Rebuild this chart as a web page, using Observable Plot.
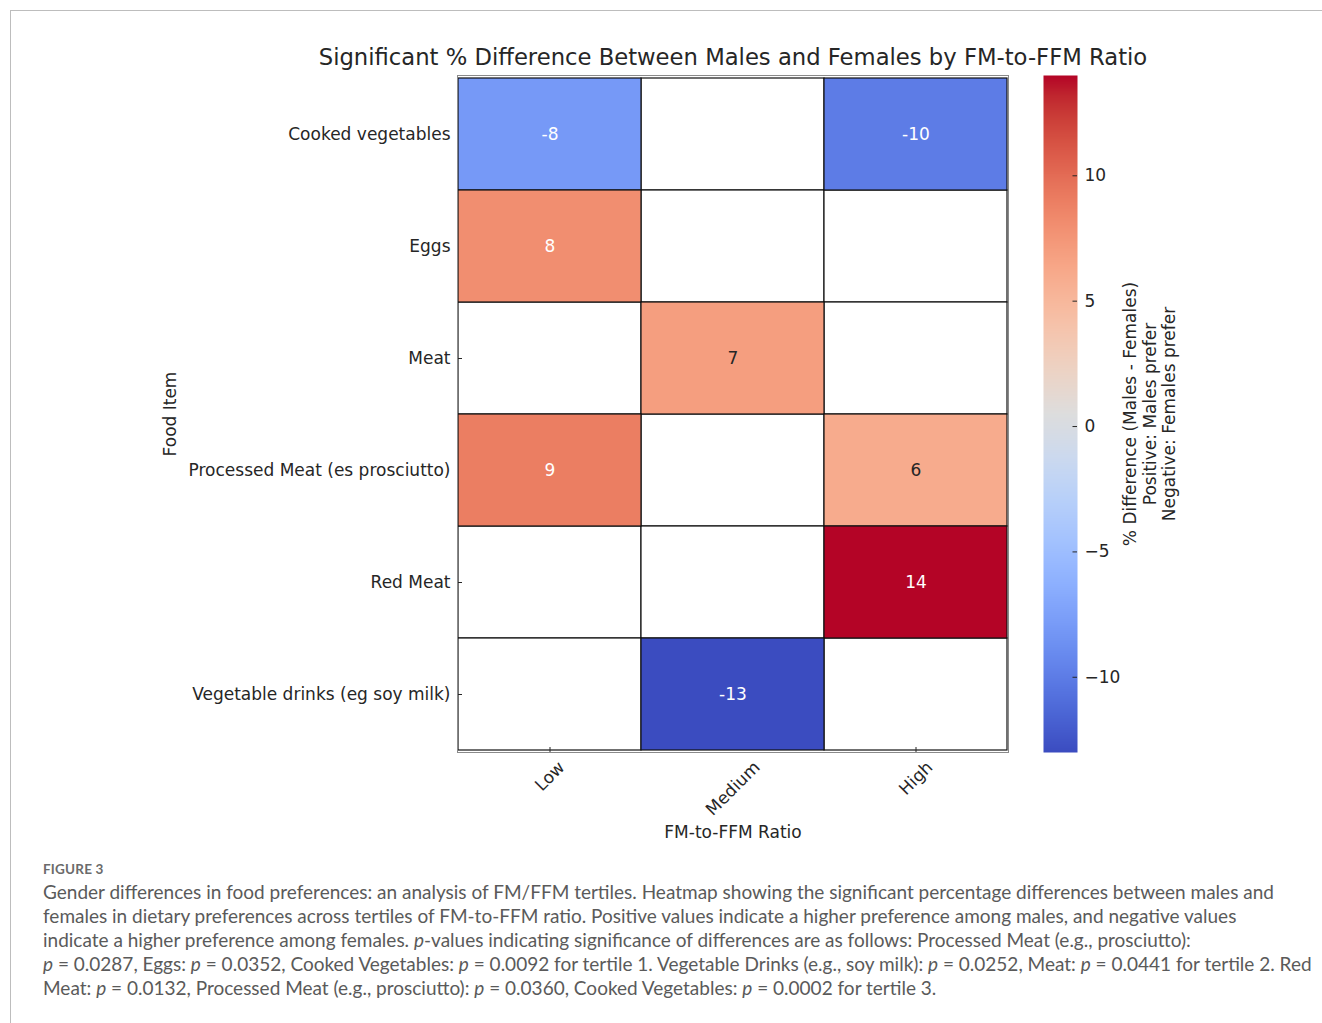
<!DOCTYPE html>
<html>
<head>
<meta charset="utf-8">
<script src="https://cdn.jsdelivr.net/npm/d3@7"></script>
<script src="https://cdn.jsdelivr.net/npm/@observablehq/plot@0.6"></script>
<style>
  html, body { margin: 0; padding: 0; background: white; }
  #page { position: relative; width: 1322px; height: 1023px; overflow: hidden; background: white; }
  #border { position: absolute; left: 10px; top: 10px; width: 1320px; height: 1020px;
            border-top: 1.5px solid #bdbdbd; border-left: 1.5px solid #bdbdbd; }
  #heat { position: absolute; left: 0; top: 0; }
  #cbar { position: absolute; left: 1000px; top: 0; }
  #figlabel { position: absolute; left: 43px; top: 861px; font-family: Lato, "Open Sans", sans-serif;
              font-weight: 700; font-size: 13.5px; color: #6b6b6b; letter-spacing: 0.2px; }
  #caption { position: absolute; left: 43px; top: 880px; font-family: Lato, "Open Sans", sans-serif;
             font-size: 19px; line-height: 24px; color: #5a5a5a; white-space: nowrap; }
</style>
</head>
<body>
<div id="page">
  <div id="border"></div>
  <div id="heat"></div>
  <div id="cbar"></div>
  <div id="figlabel">FIGURE 3</div>
  <div id="caption">
    Gender differences in food preferences: an analysis of FM/FFM tertiles. Heatmap showing the significant percentage differences between males and<br>
    females in dietary preferences across tertiles of FM-to-FFM ratio. Positive values indicate a higher preference among males, and negative values<br>
    indicate a higher preference among females. <i>p</i>-values indicating significance of differences are as follows: Processed Meat (e.g., prosciutto):<br>
    <i>p</i>&nbsp;=&nbsp;0.0287, Eggs: <i>p</i>&nbsp;=&nbsp;0.0352, Cooked Vegetables: <i>p</i>&nbsp;=&nbsp;0.0092 for tertile 1. Vegetable Drinks (e.g., soy milk): <i>p</i>&nbsp;=&nbsp;0.0252, Meat: <i>p</i>&nbsp;=&nbsp;0.0441 for tertile 2. Red<br>
    Meat: <i>p</i>&nbsp;=&nbsp;0.0132, Processed Meat (e.g., prosciutto): <i>p</i>&nbsp;=&nbsp;0.0360, Cooked Vegetables: <i>p</i>&nbsp;=&nbsp;0.0002 for tertile 3.
  </div>
</div>
<script>
// ---------------- data ----------------
const foods = [
  "Cooked vegetables",
  "Eggs",
  "Meat",
  "Processed Meat (es prosciutto)",
  "Red Meat",
  "Vegetable drinks (eg soy milk)"
];
const tertiles = ["Low", "Medium", "High"];
const lowValues    = [-8, 8, null, 9, null, null];
const mediumValues = [null, null, 7, null, null, -13];
const highValues   = [-10, null, null, 6, 14, null];
const colorbarTicks = [-10, -5, 0, 5, 10];
const colorDomainMin = -13;
const colorDomainMax = 14;

const titleText = "Significant % Difference Between Males and Females by FM-to-FFM Ratio";
const xTitle = "FM-to-FFM Ratio";
const yTitle = "Food Item";
const cbarTitle = "% Difference (Males - Females)\nPositive: Males prefer\nNegative: Females prefer";

// ---------------- table ----------------
const seriesByTertile = {Low: lowValues, Medium: mediumValues, High: highValues};
const table = [];
foods.forEach((food, i) => {
  tertiles.forEach((t) => table.push({food, tertile: t, value: seriesByTertile[t][i]}));
});
const valued = table.filter((d) => d.value != null);

// matplotlib "coolwarm" colormap (33 anchor colors)
const coolwarm = ["#3b4cc0","#445acc","#4d68d7","#5775e1","#6282ea","#6c8ff1","#779af7","#82a5fb",
  "#8db0fe","#98b9ff","#a3c2fe","#aec9fc","#b8d0f9","#c2d5f4","#ccd9ee","#d5dbe5","#dddddd",
  "#e5d8d1","#ecd3c5","#f1ccb9","#f5c4ad","#f7bba0","#f7b194","#f7a687","#f49a7b","#f18d6f",
  "#ec7f63","#e57058","#de604d","#d55042","#cb3e38","#c0282f","#b40426"];
const colorOpts = {
  type: "linear",
  domain: coolwarm.map((_, i) => colorDomainMin + (colorDomainMax - colorDomainMin) * i / (coolwarm.length - 1)),
  range: coolwarm,
  interpolate: "rgb"
};
const colorScale = Plot.scale({color: colorOpts});

// seaborn-style annotation colour choice
function relLum(c) {
  const rgb = d3.rgb(c);
  const f = (v) => { v /= 255; return v <= 0.03928 ? v / 12.92 : Math.pow((v + 0.055) / 1.055, 2.4); };
  return 0.2126 * f(rgb.r) + 0.7152 * f(rgb.g) + 0.0722 * f(rgb.b);
}
const annotColor = (d) => relLum(colorScale.apply(d.value)) > 0.408 ? "#262626" : "white";

// ---------------- layout ----------------
const W = 1322, H = 860;
const mL = 457, mR = 314, mT = 75, mB = 108;
const frameW = W - mL - mR, frameH = H - mT - mB;
const FS = 17;
const baseStyle = {fontFamily: "DejaVu Sans, sans-serif", fontSize: FS + "px", background: "transparent", color: "#262626", overflow: "visible"};

const ctx = document.createElement("canvas").getContext("2d");
ctx.font = FS + "px 'DejaVu Sans'";
const measure = (s) => ctx.measureText(s).width;
const boxH = FS * 1.164;

const xTickLabels = tertiles.map((t) => Plot.text([t], {
  x: (d) => d, frameAnchor: "bottom", rotate: -45, textAnchor: "middle", lineAnchor: "middle",
  dy: 5 + 0.3536 * (measure(t) + boxH), fontSize: FS, fill: "#262626"
}));

const heat = Plot.plot({
  width: W, height: H,
  marginLeft: mL, marginRight: mR, marginTop: mT, marginBottom: mB,
  x: {type: "band", domain: tertiles, padding: 0, axis: null},
  y: {type: "band", domain: foods, padding: 0},
  color: colorOpts,
  style: baseStyle,
  marks: [
    Plot.cell(table, {x: "tertile", y: "food", fill: "white", stroke: "#111", strokeWidth: 1.2, inset: 0,
      filter: (d) => d.value == null}),
    Plot.cell(valued, {x: "tertile", y: "food", fill: "value", stroke: "#111", strokeWidth: 1.2, inset: 0}),
    Plot.tickY(foods, {y: (d) => d, insetRight: frameW - 5, stroke: "#262626", strokeWidth: 1,
      filter: (d, i) => lowValues[i] == null}),
    Plot.tickX(tertiles, {x: (d) => d, insetTop: frameH - 5, stroke: "#262626", strokeWidth: 1,
      filter: (d) => seriesByTertile[d][foods.length - 1] == null}),
    Plot.frame({stroke: "#8a8a8a", strokeWidth: 1}),
    Plot.text(valued, {x: "tertile", y: "food", text: (d) => String(d.value), fill: annotColor, fontSize: FS}),
    Plot.axisY({tickSize: 0, tickPadding: 7, fontSize: FS, label: null, fill: "#262626"}),
    ...xTickLabels,
    Plot.text([xTitle], {frameAnchor: "bottom", lineAnchor: "bottom", dy: 85, fontSize: FS, fill: "#262626"}),
    Plot.text([yTitle], {frameAnchor: "left", rotate: -90, textAnchor: "middle", lineAnchor: "top", dx: -294, fontSize: FS, fill: "#262626"}),
    Plot.text([titleText], {frameAnchor: "top", lineAnchor: "bottom", dy: -11, fontSize: 22.7, fill: "#262626"})
  ]
});
document.getElementById("heat").appendChild(heat);

// ---------------- colorbar ----------------
const CW = 220;
const cL = 43, cR = CW - 77;
const cbarW = CW - cL - cR;
const gradientMark = (typeof Plot.raster === "function")
  ? Plot.raster({x1: 0, x2: 1, y1: colorDomainMin, y2: colorDomainMax, fill: (x, y) => y, width: 1, height: 680, imageRendering: "auto"})
  : Plot.rect(d3.range(colorDomainMin, colorDomainMax, 0.04), {x1: 0, x2: 1, y1: (d) => d, y2: (d) => d + 0.06, fill: (d) => d + 0.02});

const cbar = Plot.plot({
  width: CW, height: H,
  marginLeft: cL, marginRight: cR, marginTop: mT, marginBottom: mB,
  x: {domain: [0, 1], axis: null},
  y: {domain: [colorDomainMin, colorDomainMax]},
  color: colorOpts,
  style: baseStyle,
  marks: [
    gradientMark,
    Plot.tickY(colorbarTicks, {y: (d) => d, insetLeft: cbarW - 4.5, stroke: "#262626", strokeWidth: 1}),
    Plot.axisY(colorbarTicks, {anchor: "right", tickSize: 0, tickPadding: 7, tickFormat: d3.format("d"), fontSize: FS, label: null, fill: "#262626"}),
    Plot.text([cbarTitle], {frameAnchor: "right", rotate: -90, textAnchor: "middle", lineAnchor: "top", dx: 45, lineHeight: 1.15, fontSize: FS, fill: "#262626"})
  ]
});
document.getElementById("cbar").appendChild(cbar);
</script>
</body>
</html>
